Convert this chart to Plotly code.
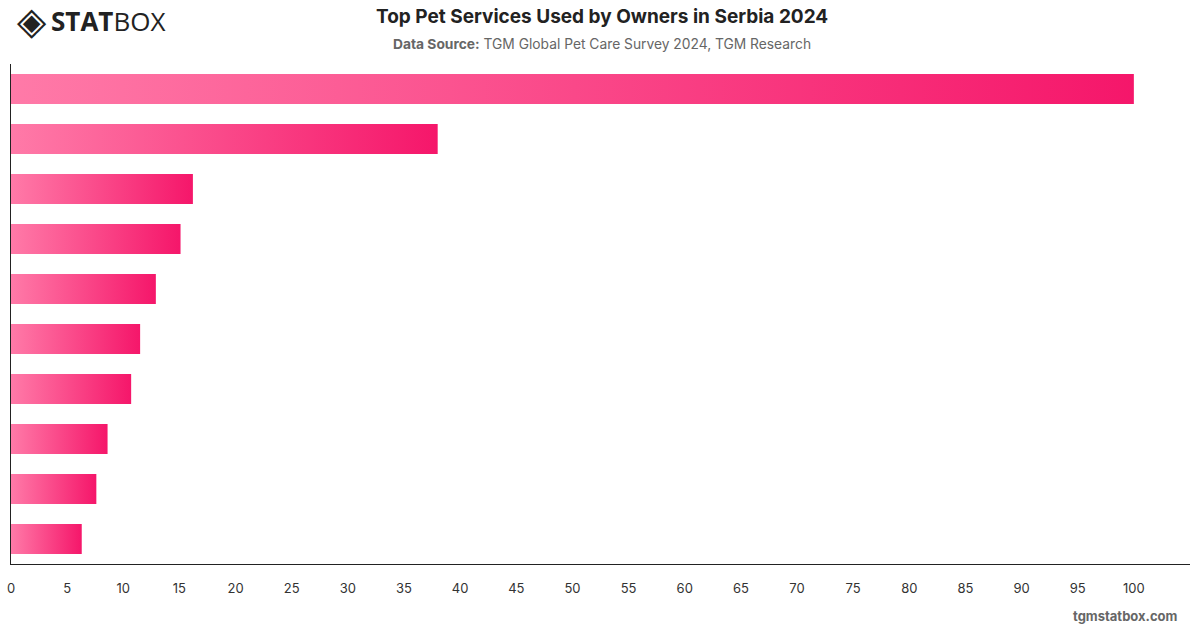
import plotly.graph_objects as go

# Data (category labels are not shown in the chart)
categories = [
    "Service 1", "Service 2", "Service 3", "Service 4", "Service 5",
    "Service 6", "Service 7", "Service 8", "Service 9", "Service 10",
]
values = [100, 38, 16.2, 15.1, 12.9, 11.5, 10.7, 8.6, 7.6, 6.3]
x_ticks = list(range(0, 101, 5))

COLOR_START = "#ff7aa8"
COLOR_END = "#f5166a"
HALF = 0.3

fig = go.Figure()
for i, (cat, v) in enumerate(zip(categories, values)):
    fig.add_trace(go.Scatter(
        x=[0, v, v, 0, 0],
        y=[i - HALF, i - HALF, i + HALF, i + HALF, i - HALF],
        mode="lines",
        line=dict(width=0),
        fill="toself",
        fillgradient=dict(type="horizontal",
                          colorscale=[[0, COLOR_START], [1, COLOR_END]],
                          start=0, stop=v),
        name=cat,
        hoverinfo="text",
        text=f"{cat}: {v}",
        showlegend=False,
    ))

fig.update_layout(
    width=1200, height=628,
    margin=dict(l=7, r=10, t=64, b=64),
    paper_bgcolor="white", plot_bgcolor="white",
    font=dict(family="Inter, Roboto, sans-serif", color="#333"),
    xaxis=dict(
        range=[0, 105], tickvals=x_ticks, ticktext=[str(t) for t in x_ticks],
        showgrid=False, zeroline=False, showline=True, linecolor="#222",
        linewidth=1.2, ticks="", tickfont=dict(size=13, color="#333"),
        ticklabelstandoff=12, fixedrange=True,
    ),
    yaxis=dict(
        range=[len(categories) - 0.5, -0.5], tickvals=list(range(len(categories))),
        ticktext=categories, showticklabels=False,
        showgrid=False, zeroline=False, showline=True, linecolor="#222",
        linewidth=1.2, ticks="", fixedrange=True,
    ),
)

W, H = 1200, 628
L, R, T, B = 7, 10, 64, 64
pw, ph = W - L - R, H - T - B


def px_ann(text, x, y, size, color, xanchor="center", family=None):
    font = dict(size=size, color=color)
    if family:
        font["family"] = family
    return dict(text=text, xref="paper", yref="paper",
                x=(x - L) / pw, y=(H - B - y) / ph,
                xanchor=xanchor, yanchor="middle", showarrow=False, font=font)


fig.update_layout(annotations=[
    px_ann("<b>Top Pet Services Used by Owners in Serbia 2024</b>", 600, 17, 19, "#222"),
    px_ann("<b>Data Source:</b> TGM Global Pet Care Survey 2024, TGM Research",
           600, 44, 13.8, "#666"),
    px_ann("<b>tgmstatbox.com</b>", 1180, 616, 13, "#666", xanchor="right"),
    px_ann("◈", 28, 21, 38, "#222", family="DejaVu Sans"),
    px_ann("<b>STAT</b>BOX", 104, 21, 26, "#222", family="Open Sans, sans-serif"),
])

fig.write_html("out.html")
